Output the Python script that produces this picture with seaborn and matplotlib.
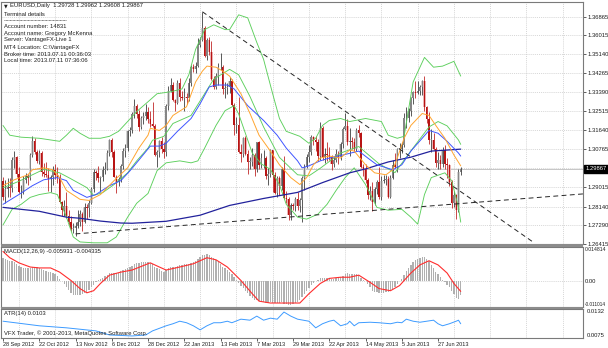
import numpy as np
import matplotlib
matplotlib.use("Agg")
import matplotlib.pyplot as plt
import matplotlib.transforms as mtransforms
from matplotlib.lines import Line2D
from matplotlib.patches import Rectangle
import seaborn as sns

sns.set_theme(style="white")
plt.rcParams['font.family'] = ['Liberation Sans', 'DejaVu Sans']

# ---------------- data (EURUSD daily, 28 Sep 2012 .. 11 Jul 2013) ----------------
opens = [1.2930, 1.2860, 1.2895, 1.2905, 1.2900, 1.3030, 1.3040, 1.2965, 1.2880, 1.2880,
         1.2935, 1.2955, 1.2945, 1.3050, 1.3115, 1.3065, 1.3025, 1.3060, 1.2975, 1.2965,
         1.2960, 1.2940, 1.2950, 1.2980, 1.2960, 1.2950, 1.2835, 1.2800, 1.2815, 1.2770,
         1.2745, 1.2710, 1.2715, 1.2725, 1.2745, 1.2780, 1.2745, 1.2810, 1.2805, 1.2830,
         1.2895, 1.2975, 1.2970, 1.2945, 1.2950, 1.2980, 1.2985, 1.3060, 1.3120, 1.3065,
         1.2950, 1.2925, 1.2940, 1.3000, 1.3070, 1.3085, 1.3160, 1.3165, 1.3240, 1.3275,
         1.3240, 1.3180, 1.3220, 1.3230, 1.3250, 1.3215, 1.3195, 1.3185, 1.3050, 1.3065,
         1.3115, 1.3080, 1.3065, 1.3275, 1.3345, 1.3375, 1.3305, 1.3290, 1.3380, 1.3320,
         1.3315, 1.3320, 1.3315, 1.3380, 1.3455, 1.3445, 1.3460, 1.3555, 1.3580, 1.3635,
         1.3505, 1.3580, 1.3525, 1.3400, 1.3365, 1.3415, 1.3455, 1.3455, 1.3355, 1.3360,
         1.3365, 1.3390, 1.3280, 1.3190, 1.3190, 1.3065, 1.3055, 1.3130, 1.3055, 1.3020,
         1.3020, 1.3050, 1.2985, 1.3110, 1.3005, 1.3035, 1.3035, 1.2955, 1.2965, 1.3075,
         1.2960, 1.2875, 1.2945, 1.2910, 1.2985, 1.2855, 1.2850, 1.2775, 1.2820, 1.2815,
         1.2850, 1.2815, 1.2845, 1.2945, 1.2995, 1.3040, 1.3065, 1.3135, 1.3120, 1.3110,
         1.3045, 1.3175, 1.3040, 1.3055, 1.3050, 1.3040, 1.3010, 1.3030, 1.3055, 1.3040,
         1.3100, 1.3170, 1.3185, 1.3110, 1.3115, 1.3110, 1.3080, 1.3165, 1.3150, 1.2995,
         1.2985, 1.2935, 1.2865, 1.2885, 1.2835, 1.2895, 1.2925, 1.2860, 1.2930, 1.2935,
         1.2940, 1.2860, 1.2945, 1.3005, 1.2995, 1.3080, 1.3080, 1.3095, 1.3220, 1.3220,
         1.3255, 1.3315, 1.3340, 1.3335, 1.3345, 1.3365, 1.3390, 1.3270, 1.3215, 1.3120,
         1.3120, 1.3080, 1.3015, 1.3030, 1.3010, 1.3075, 1.3010, 1.3005, 1.2925, 1.2830,
         1.2865, 1.2800, 1.29728]
highs = [1.2950, 1.2935, 1.2945, 1.2945, 1.3040, 1.3070, 1.3045, 1.2995, 1.2915, 1.2955,
         1.2970, 1.2965, 1.3060, 1.3140, 1.3130, 1.3075, 1.3075, 1.3070, 1.3015, 1.3020,
         1.2990, 1.2960, 1.3000, 1.3010, 1.2995, 1.2965, 1.2840, 1.2845, 1.2880, 1.2800,
         1.2770, 1.2740, 1.2745, 1.2800, 1.2800, 1.2790, 1.2830, 1.2825, 1.2845, 1.2905,
         1.2985, 1.2980, 1.3000, 1.2955, 1.3000, 1.3020, 1.3075, 1.3125, 1.3130, 1.3075,
         1.2960, 1.2950, 1.3010, 1.3085, 1.3100, 1.3165, 1.3180, 1.3250, 1.3310, 1.3285,
         1.3260, 1.3230, 1.3250, 1.3285, 1.3270, 1.3255, 1.3295, 1.3195, 1.3075, 1.3120,
         1.3135, 1.3110, 1.3285, 1.3370, 1.3405, 1.3385, 1.3310, 1.3395, 1.3405, 1.3345,
         1.3360, 1.3335, 1.3405, 1.3465, 1.3470, 1.3480, 1.3590, 1.3595, 1.3710, 1.3645,
         1.3590, 1.3595, 1.3575, 1.3415, 1.3430, 1.3475, 1.3520, 1.3465, 1.3385, 1.3380,
         1.3410, 1.3400, 1.3290, 1.3225, 1.3320, 1.3100, 1.3135, 1.3140, 1.3075, 1.3040,
         1.3085, 1.3060, 1.3110, 1.3115, 1.3060, 1.3075, 1.3045, 1.2990, 1.3080, 1.3075,
         1.2975, 1.2955, 1.2955, 1.2995, 1.3045, 1.2885, 1.2860, 1.2830, 1.2830, 1.2860,
         1.2880, 1.2855, 1.2955, 1.3010, 1.3055, 1.3095, 1.3145, 1.3140, 1.3140, 1.3125,
         1.3205, 1.3185, 1.3085, 1.3110, 1.3090, 1.3050, 1.3045, 1.3080, 1.3070, 1.3110,
         1.3180, 1.3245, 1.3215, 1.3175, 1.3135, 1.3130, 1.3175, 1.3190, 1.3155, 1.3010,
         1.3010, 1.2945, 1.2910, 1.2925, 1.2905, 1.2935, 1.2995, 1.2955, 1.2960, 1.2960,
         1.2955, 1.2960, 1.3030, 1.3060, 1.3085, 1.3105, 1.3110, 1.3245, 1.3270, 1.3265,
         1.3320, 1.3345, 1.3390, 1.3390, 1.3375, 1.3395, 1.3415, 1.3275, 1.3250, 1.3170,
         1.3150, 1.3090, 1.3065, 1.3050, 1.3090, 1.3095, 1.3035, 1.3010, 1.2935, 1.2885,
         1.2870, 1.2985, 1.29962]
lows = [1.2845, 1.2830, 1.2860, 1.2860, 1.2880, 1.2990, 1.2950, 1.2875, 1.2855, 1.2870,
        1.2920, 1.2915, 1.2935, 1.3040, 1.3055, 1.3015, 1.3010, 1.2955, 1.2950, 1.2950,
        1.2885, 1.2880, 1.2915, 1.2940, 1.2920, 1.2830, 1.2770, 1.2770, 1.2760, 1.2730,
        1.2700, 1.2690, 1.2680, 1.2715, 1.2725, 1.2700, 1.2740, 1.2755, 1.2765, 1.2825,
        1.2880, 1.2935, 1.2925, 1.2880, 1.2930, 1.2965, 1.2980, 1.3045, 1.3040, 1.2950,
        1.2875, 1.2910, 1.2925, 1.2985, 1.3040, 1.3070, 1.3140, 1.3150, 1.3220, 1.3220,
        1.3160, 1.3170, 1.3195, 1.3210, 1.3200, 1.3180, 1.3180, 1.3045, 1.2995, 1.3040,
        1.3060, 1.3035, 1.3045, 1.3260, 1.3340, 1.3300, 1.3255, 1.3285, 1.3300, 1.3305,
        1.3255, 1.3285, 1.3300, 1.3370, 1.3435, 1.3430, 1.3455, 1.3550, 1.3575, 1.3500,
        1.3490, 1.3510, 1.3395, 1.3355, 1.3355, 1.3375, 1.3440, 1.3330, 1.3315, 1.3330,
        1.3335, 1.3275, 1.3145, 1.3150, 1.3060, 1.3020, 1.3040, 1.3050, 1.2965, 1.2985,
        1.3000, 1.2955, 1.2975, 1.2985, 1.2990, 1.2990, 1.2940, 1.2915, 1.2950, 1.2880,
        1.2870, 1.2860, 1.2865, 1.2890, 1.2850, 1.2830, 1.2750, 1.2750, 1.2800, 1.2795,
        1.2800, 1.2790, 1.2745, 1.2890, 1.2990, 1.3020, 1.3050, 1.3095, 1.3070, 1.3025,
        1.3030, 1.3030, 1.3015, 1.3025, 1.3030, 1.2980, 1.2995, 1.3020, 1.3010, 1.3030,
        1.3085, 1.3165, 1.3095, 1.3045, 1.3080, 1.3065, 1.3070, 1.3135, 1.2990, 1.2955,
        1.2920, 1.2850, 1.2845, 1.2795, 1.2820, 1.2870, 1.2850, 1.2845, 1.2920, 1.2915,
        1.2855, 1.2855, 1.2940, 1.2990, 1.2975, 1.3035, 1.3060, 1.3090, 1.3175, 1.3205,
        1.3230, 1.3285, 1.3315, 1.3330, 1.3325, 1.3325, 1.3255, 1.3200, 1.3100, 1.3065,
        1.3075, 1.2995, 1.2985, 1.2985, 1.2995, 1.2985, 1.2945, 1.2910, 1.2805, 1.2810,
        1.2755, 1.2790, 1.29608]
closes = [1.2860, 1.2895, 1.2905, 1.2900, 1.3030, 1.3040, 1.2965, 1.2880, 1.2880, 1.2935,
          1.2955, 1.2945, 1.3050, 1.3115, 1.3065, 1.3025, 1.3060, 1.2975, 1.2965, 1.2960,
          1.2940, 1.2950, 1.2980, 1.2960, 1.2950, 1.2835, 1.2800, 1.2815, 1.2770, 1.2745,
          1.2710, 1.2715, 1.2725, 1.2745, 1.2780, 1.2745, 1.2810, 1.2805, 1.2830, 1.2895,
          1.2975, 1.2970, 1.2945, 1.2950, 1.2980, 1.2985, 1.3060, 1.3120, 1.3065, 1.2950,
          1.2925, 1.2940, 1.3000, 1.3070, 1.3085, 1.3160, 1.3165, 1.3240, 1.3275, 1.3240,
          1.3180, 1.3220, 1.3230, 1.3250, 1.3215, 1.3195, 1.3185, 1.3050, 1.3065, 1.3115,
          1.3080, 1.3065, 1.3275, 1.3345, 1.3375, 1.3305, 1.3290, 1.3380, 1.3320, 1.3315,
          1.3320, 1.3315, 1.3380, 1.3455, 1.3445, 1.3460, 1.3555, 1.3580, 1.3635, 1.3505,
          1.3580, 1.3525, 1.3400, 1.3365, 1.3415, 1.3455, 1.3455, 1.3355, 1.3360, 1.3365,
          1.3390, 1.3280, 1.3190, 1.3190, 1.3065, 1.3055, 1.3130, 1.3055, 1.3020, 1.3020,
          1.3050, 1.2985, 1.3110, 1.3005, 1.3035, 1.3035, 1.2955, 1.2965, 1.3075, 1.2960,
          1.2875, 1.2945, 1.2910, 1.2985, 1.2855, 1.2850, 1.2775, 1.2820, 1.2815, 1.2850,
          1.2815, 1.2845, 1.2945, 1.2995, 1.3040, 1.3065, 1.3135, 1.3120, 1.3110, 1.3045,
          1.3175, 1.3040, 1.3055, 1.3050, 1.3040, 1.3010, 1.3030, 1.3055, 1.3040, 1.3100,
          1.3170, 1.3185, 1.3110, 1.3115, 1.3110, 1.3080, 1.3165, 1.3150, 1.2995, 1.2985,
          1.2935, 1.2865, 1.2885, 1.2835, 1.2895, 1.2925, 1.2860, 1.2930, 1.2935, 1.2940,
          1.2860, 1.2945, 1.3005, 1.2995, 1.3080, 1.3080, 1.3095, 1.3220, 1.3220, 1.3255,
          1.3315, 1.3340, 1.3335, 1.3345, 1.3365, 1.3390, 1.3270, 1.3215, 1.3120, 1.3120,
          1.3080, 1.3015, 1.3030, 1.3010, 1.3075, 1.3010, 1.3005, 1.2925, 1.2830, 1.2865,
          1.2800, 1.2975, 1.29867]

# indicator lines (bar index, value)
bb_up_x = [0, 3, 8, 16, 25, 28, 31, 34, 38, 43, 47, 51, 55, 59, 64, 68, 74, 79, 82, 85,
           89, 93, 98, 100, 104, 108, 112, 115, 119, 122, 125, 131, 135, 138, 141, 144, 149,
           153, 160, 167, 170, 174, 177, 181, 186, 190, 194, 199, 202]
bb_up_y = [1.3187, 1.3142, 1.3133, 1.3128, 1.3114, 1.3142, 1.3174, 1.3151, 1.3128, 1.3128,
           1.3137, 1.3160, 1.3205, 1.3251, 1.3296, 1.3333, 1.3342, 1.3355, 1.3420, 1.3537,
           1.3628, 1.3650, 1.3628, 1.3628, 1.3696, 1.3682, 1.3569, 1.3491, 1.3333, 1.3219,
           1.3160, 1.3137, 1.3105, 1.3128, 1.3187, 1.3210, 1.3219, 1.3205, 1.3219, 1.3205,
           1.3142, 1.3128, 1.3137, 1.3387, 1.3500, 1.3455, 1.3460, 1.3482, 1.3414]
bb_lo_x = [0, 4, 8, 12, 16, 21, 24, 28, 31, 34, 40, 46, 50, 55, 59, 64, 68, 72, 78, 83,
           86, 89, 94, 98, 102, 104, 107, 110, 114, 118, 122, 125, 130, 134, 139, 143, 147,
           151, 155, 160, 165, 170, 176, 180, 183, 186, 189, 195, 198, 201, 202]
bb_lo_y = [1.2729, 1.2801, 1.2824, 1.2856, 1.2869, 1.2878, 1.2869, 1.2765, 1.2674, 1.2651,
           1.2647, 1.2647, 1.2674, 1.2765, 1.2829, 1.2874, 1.2979, 1.3015, 1.3024, 1.3015,
           1.3024, 1.3083, 1.3187, 1.3255, 1.3278, 1.3240, 1.3150, 1.3060, 1.3010, 1.2985,
           1.2915, 1.2824, 1.2765, 1.2756, 1.2779, 1.2824, 1.2888, 1.2947, 1.2992, 1.2915,
           1.2810, 1.2797, 1.2801, 1.2765, 1.2733, 1.2869, 1.2947, 1.2969, 1.2933, 1.2810,
           1.2742]
bb_mid_x = [0, 7, 18, 25, 29, 37, 40, 44, 49, 55, 59, 64, 66, 71, 75, 83, 87, 93, 100, 104,
            109, 115, 122, 130, 135, 140, 149, 157, 166, 173, 180, 188, 192, 196, 201, 202]
bb_mid_y = [1.2900, 1.2930, 1.2985, 1.2969, 1.2947, 1.2901, 1.2865, 1.2878, 1.2915, 1.2969,
            1.3024, 1.3083, 1.3119, 1.3137, 1.3196, 1.3233, 1.3300, 1.3400, 1.3445, 1.3420,
            1.3320, 1.3180, 1.3040, 1.2960, 1.2955, 1.2990, 1.3060, 1.3090, 1.3010, 1.2970,
            1.3070, 1.3180, 1.3205, 1.3185, 1.3120, 1.3100]
ma_fast_x = [0, 5, 11, 13, 18, 22, 25, 28, 34, 38, 43, 49, 55, 60, 64, 65, 69, 72, 75, 81,
             85, 88, 90, 94, 97, 100, 105, 109, 113, 118, 122, 127, 131, 134, 137, 140, 144,
             149, 153, 155, 160, 164, 169, 172, 174, 177, 180, 185, 188, 191, 195, 199, 202]
ma_fast_y = [1.2910, 1.2937, 1.2960, 1.2983, 1.2992, 1.2983, 1.2947, 1.2888, 1.2847, 1.2842,
             1.2869, 1.2933, 1.2992, 1.3083, 1.3142, 1.3174, 1.3164, 1.3187, 1.3233, 1.3273,
             1.3387, 1.3437, 1.3460, 1.3455, 1.3437, 1.3414, 1.3333, 1.3242, 1.3142, 1.3069,
             1.3006, 1.2947, 1.2915, 1.2947, 1.3006, 1.3037, 1.3046, 1.3037, 1.3074, 1.3069,
             1.3006, 1.2969, 1.2960, 1.2983, 1.3037, 1.3128, 1.3187, 1.3242, 1.3233, 1.3187,
             1.3128, 1.3051, 1.3001]
ma_mid_x = [0, 7, 13, 18, 24, 28, 31, 37, 41, 47, 52, 56, 60, 65, 69, 72, 77, 83, 87, 91,
            94, 99, 102, 108, 115, 121, 125, 130, 132, 135, 140, 144, 150, 157, 161, 165, 172,
            176, 180, 185, 188, 192, 196, 201, 202]
ma_mid_y = [1.2824, 1.2869, 1.2910, 1.2937, 1.2947, 1.2933, 1.2888, 1.2856, 1.2869, 1.2910,
            1.2933, 1.2978, 1.3028, 1.3092, 1.3092, 1.3105, 1.3160, 1.3219, 1.3287, 1.3364,
            1.3373, 1.3373, 1.3355, 1.3278, 1.3210, 1.3142, 1.3083, 1.3024, 1.2992, 1.3001,
            1.3024, 1.3037, 1.3051, 1.3069, 1.3037, 1.3006, 1.2983, 1.3006, 1.3069, 1.3128,
            1.3164, 1.3151, 1.3114, 1.3060, 1.3046]
ma_slow_x = [0, 16, 28, 34, 43, 52, 57, 72, 87, 100, 115, 130, 141, 153, 160, 170, 180, 189, 202]
ma_slow_y = [1.2810, 1.2792, 1.2765, 1.2760, 1.2747, 1.2738, 1.2737, 1.2746, 1.2774, 1.2819,
             1.2851, 1.2879, 1.2924, 1.2969, 1.2987, 1.3019, 1.3041, 1.3069, 1.3078]

# manual trend lines (anchor bars / prices)
trend_down_x = [88, 234]
trend_down_y = [1.3710, 1.2650]
trend_up_x = [32, 256]
trend_up_y = [1.2688, 1.2872]

# MACD(12,26,9) main, in units of 1e-4, one per bar
macd_main_e4 = [102, 97, 92, 86, 86, 84, 76, 66, 60, 58,
                57, 56, 58, 64, 63, 60, 58, 53, 49, 46,
                42, 40, 36, 32, 24, 10, 0, -12, -24, -38,
                -50, -57, -60, -60, -58, -56, -52, -46, -36, -24,
                -14, -4, 4, 12, 16, 22, 28, 36, 38, 36,
                36, 38, 44, 50, 54, 58, 62, 68, 74, 78,
                80, 82, 83, 85, 85, 80, 74, 64, 58, 52,
                46, 40, 48, 56, 62, 64, 64, 68, 70, 72,
                74, 74, 76, 80, 84, 90, 98, 106, 114, 113,
                116, 112, 104, 100, 94, 88, 74, 64, 56, 48,
                40, 30, 18, 8, -6, -18, -28, -40, -52, -63,
                -70, -78, -80, -86, -88, -89, -92, -93, -90, -92,
                -95, -94, -94, -90, -96, -98, -102, -100, -99, -94,
                -90, -80, -68, -55, -42, -30, -16, -6, 2, 4,
                16, 16, 16, 16, 14, 12, 12, 14, 14, 18,
                24, 32, 36, 34, 32, 30, 30, 28, 16, 8,
                0, -10, -26, -40, -44, -46, -50, -50, -49, -46,
                -46, -42, -32, -24, -12, 2, 10, 26, 44, 58,
                72, 84, 92, 98, 102, 106, 107, 98, 86, 72,
                56, 42, 30, 18, 6, -2, -14, -26, -42, -56,
                -70, -74, -59]
macd_sig_x = [0, 3, 7, 12, 16, 21, 25, 30, 34, 37, 40, 43, 47, 52, 57, 65, 69, 72, 78, 84,
              90, 94, 99, 105, 110, 113, 118, 127, 131, 135, 140, 144, 149, 153, 157, 162,
              166, 171, 175, 180, 184, 188, 192, 196, 199, 202]
macd_sig_y = [0.0129, 0.0102, 0.0080, 0.0062, 0.0058, 0.0058, 0.0040, 0.0004, -0.0031, -0.0049,
              -0.0040, -0.0009, 0.0027, 0.0040, 0.0049, 0.0080, 0.0062, 0.0049, 0.0062, 0.0076,
              0.0102, 0.0093, 0.0062, 0.0004, -0.0053, -0.0085, -0.0093, -0.0093, -0.0093, -0.0053,
              -0.0009, 0.0013, 0.0018, 0.0018, 0.0027, -0.0004, -0.0031, -0.0040, -0.0018, 0.0036,
              0.0071, 0.0089, 0.0071, 0.0036, -0.0009, -0.0043]

# ATR(14)
atr_x = [0, 16, 28, 41, 47, 57, 63, 66, 72, 75, 78, 81, 84, 87, 90, 93, 96, 99, 101, 105,
         109, 112, 115, 118, 121, 124, 127, 130, 135, 138, 141, 144, 146, 149, 152, 153, 155,
         157, 162, 166, 171, 174, 176, 178, 181, 184, 187, 190, 192, 194, 197, 200, 201, 202]
atr_y = [0.0108, 0.0099, 0.0095, 0.0089, 0.0081, 0.0079, 0.0081, 0.0089, 0.0099, 0.0103,
         0.0108, 0.0105, 0.0099, 0.0091, 0.0099, 0.0105, 0.0105, 0.0108, 0.0105, 0.0112,
         0.0110, 0.0118, 0.0110, 0.0114, 0.0112, 0.0126, 0.0118, 0.0112, 0.0108, 0.0095,
         0.0103, 0.0108, 0.0110, 0.0099, 0.0103, 0.0108, 0.0099, 0.0105, 0.0106, 0.0105,
         0.0103, 0.0106, 0.0105, 0.0112, 0.0108, 0.0106, 0.0108, 0.0110, 0.0103, 0.0099,
         0.0103, 0.0108, 0.0110, 0.0103]

price_ticks = [1.36865, 1.36015, 1.35140, 1.34265, 1.33390, 1.32515, 1.31640, 1.30765,
               1.29015, 1.28140, 1.27290, 1.26415]
bid_price = 1.29867
date_ticks = [0, 16, 32, 48, 64, 80, 96, 112, 128, 144, 160, 176, 192]
date_labels = ["28 Sep 2012", "22 Oct 2012", "13 Nov 2012", "6 Dec 2012", "28 Dec 2012",
               "22 Jan 2013", "13 Feb 2013", "7 Mar 2013", "29 Mar 2013", "22 Apr 2013",
               "14 May 2013", "5 Jun 2013", "27 Jun 2013"]

for a, b in [(opens, highs), (opens, lows), (opens, closes), (opens, macd_main_e4),
             (bb_up_x, bb_up_y), (bb_lo_x, bb_lo_y), (bb_mid_x, bb_mid_y),
             (ma_fast_x, ma_fast_y), (ma_mid_x, ma_mid_y), (ma_slow_x, ma_slow_y),
             (macd_sig_x, macd_sig_y), (atr_x, atr_y)]:
    assert len(a) == len(b), (len(a), len(b))

# ---------------- figure ----------------
W, H = 608, 348
fig = plt.figure(figsize=(W / 100, H / 100), dpi=100)
fig.patch.set_facecolor('white')


def box(x0, y0, x1, y1):
    return [x0 / W, 1 - y1 / H, (x1 - x0) / W, (y1 - y0) / H]


ax = fig.add_axes(box(1, 2, 583, 244))
axm = fig.add_axes(box(1, 247, 583, 307))
axa = fig.add_axes(box(1, 309, 583, 338))

XL = (-0.88, 255.96)
for a in (ax, axm, axa):
    a.set_xlim(*XL)
    a.set_facecolor('white')
    for s in a.spines.values():
        s.set_color('#7a7a7a')
        s.set_linewidth(0.8)

ax.set_ylim(1.26415, 1.3755)
axm.set_ylim(-0.011014, 0.014814)
axa.set_ylim(0.0075, 0.0132)

# separators
for y0, y1 in [(244, 247), (307, 309)]:
    fig.add_artist(Rectangle((1 / W, 1 - y1 / H), 582 / W, (y1 - y0) / H,
                             transform=fig.transFigure, facecolor='#8c8c8c',
                             edgecolor='none'))

# grid
gkw = dict(color='#c8c8c8', lw=0.5, ls=(0, (1.5, 1.5)), zorder=0)
vgrid = [7 + 16 * k for k in range(16)]
for a in (ax, axm, axa):
    for g in vgrid:
        a.axvline(g, **gkw)
for p in price_ticks + [1.29890]:
    ax.axhline(p, **gkw)
axm.axhline(0.0, **gkw)

# bid line
ax.axhline(bid_price, color='#bdbdbd', lw=0.6, zorder=1)

# candles
idx = np.arange(len(closes))
o, h, l, c = (np.array(v) for v in (opens, highs, lows, closes))
up = c >= o
UP_BODY, UP_WICK, UP_HALO = '#858585', '#3e3e3e', '#d2d2d2'
DN_BODY, DN_WICK, DN_HALO = '#b81414', '#c02828', '#eab4b4'
bot = np.minimum(o, c)
hgt = np.maximum(np.abs(c - o), 0.00025)
# soft halo (anti-aliased look of the screenshot)
ax.bar(idx[up], hgt[up], bottom=bot[up], width=1.0, color=UP_HALO, linewidth=0, zorder=1.8)
ax.bar(idx[~up], hgt[~up], bottom=bot[~up], width=1.0, color=DN_HALO, linewidth=0, zorder=1.8)
ax.vlines(idx[up], l[up], h[up], color=UP_WICK, lw=0.6, zorder=2)
ax.vlines(idx[~up], l[~up], h[~up], color=DN_WICK, lw=0.6, zorder=2)
ax.bar(idx[up], hgt[up], bottom=bot[up], width=0.6, color=UP_BODY, linewidth=0, zorder=2.1)
ax.bar(idx[~up], hgt[~up], bottom=bot[~up], width=0.6, color=DN_BODY, linewidth=0, zorder=2.1)

# indicator lines (seaborn)
GREEN, ORANGE, BLUE, DKBLUE = '#5ccf5c', '#ffa530', '#3f55ff', '#22229c'
line_kw = dict(estimator=None, sort=False, legend=False)
for xs, ys, col, lw in [(bb_up_x, bb_up_y, GREEN, 0.65), (bb_lo_x, bb_lo_y, GREEN, 0.65),
                        (bb_mid_x, bb_mid_y, GREEN, 0.65), (ma_slow_x, ma_slow_y, DKBLUE, 0.9),
                        (ma_mid_x, ma_mid_y, BLUE, 0.7), (ma_fast_x, ma_fast_y, ORANGE, 0.7)]:
    sns.lineplot(x=xs, y=ys, ax=ax, color=col, lw=lw, zorder=3, **line_kw)

# trend lines
for xs, ys in [(trend_down_x, trend_down_y), (trend_up_x, trend_up_y)]:
    ax.plot(xs, ys, color='#262626', lw=0.7, ls=(0, (5, 3.5)), zorder=4)

# MACD
macd_main = np.array(macd_main_e4) * 1e-4
axm.bar(idx, macd_main, width=0.58, color='#b0b0b0', linewidth=0, zorder=2)
sns.lineplot(x=macd_sig_x, y=macd_sig_y, ax=axm, color='#ff2d2d', lw=0.8, zorder=3, **line_kw)

# ATR
sns.lineplot(x=atr_x, y=atr_y, ax=axa, color='#3d9bff', lw=0.7, zorder=3, **line_kw)

# ---------------- axes text / ticks ----------------
FS = 4.2
TXT = '#1e1e1e'
for a in (ax, axm, axa):
    a.set_xlabel('')
    a.set_ylabel('')
ax.yaxis.tick_right()
ax.set_yticks(price_ticks)
ax.set_yticklabels([f"{p:.5f}" for p in price_ticks])
ax.tick_params(axis='y', which='both', right=True, left=False, length=2, width=0.5,
               pad=1, labelsize=FS, colors=TXT)
ax.tick_params(axis='x', bottom=False, labelbottom=False)
for a in (axm, axa):
    a.set_yticks([])
axm.tick_params(axis='x', bottom=False, labelbottom=False)

axa.set_xticks(date_ticks)
axa.set_xticklabels(date_labels)
axa.tick_params(axis='x', bottom=True, length=2, width=0.5, pad=1.2, labelsize=FS - 0.2,
                colors=TXT)
for lbl in axa.get_xticklabels():
    lbl.set_horizontalalignment('left')

bt = mtransforms.blended_transform_factory(ax.transAxes, ax.transData)
ax.text(1.004, bid_price, '1.29867', transform=bt, color='white', fontsize=FS,
        va='center', ha='left', clip_on=False,
        bbox=dict(boxstyle='square,pad=0.22', fc='black', ec='black'))

btm = mtransforms.blended_transform_factory(axm.transAxes, axm.transData)
for val, s, va, fs in [(0.014814, '0.014814', 'top', 3.7), (0.0, '0.00', 'center', FS),
                       (-0.011014, '-0.011014', 'bottom', 3.4)]:
    axm.text(1.003, val, s, transform=btm, fontsize=fs, color=TXT, va=va, ha='left',
             clip_on=False)
bta = mtransforms.blended_transform_factory(axa.transAxes, axa.transData)
for val, s, va in [(0.0132, '0.0132', 'top'), (0.0075, '0.0075', 'bottom')]:
    axa.text(1.006, val, s, transform=bta, fontsize=FS, color=TXT, va=va, ha='left',
             clip_on=False)


def ftext(x, y, s, fs=FS, **kw):
    fig.text(x / W, 1 - y / H, s, fontsize=fs, color=TXT, va='center', ha='left', **kw)


ftext(4, 6, '\u25BC', fs=3.4, family=['DejaVu Sans'])
ftext(10, 6, 'EURUSD,Daily  1.29728 1.29962 1.29608 1.29867')
ftext(4, 14, 'Terminal details')
fig.add_artist(Line2D([4 / W, 66 / W], [1 - 20 / H, 1 - 20 / H], transform=fig.transFigure,
                      color='#303030', lw=0.5, ls=(0, (1.2, 0.8))))
info = ['Account number: 14831', 'Account name: Gregory McKenna', 'Server: VantageFX-Live 1',
        'MT4 Location: C:\\VantageFX', 'Broker time: 2013.07.11 00:36:03',
        'Local time: 2013.07.11 07:36:06']
for k, s in enumerate(info):
    ftext(4, 26 + 7 * k, s)

ftext(4, 251, 'MACD(12,26,9) -0.005931 -0.004335')
ftext(4, 313, 'ATR(14) 0.0103')
ftext(4, 333, 'VFX Trader, \u00A9 2001-2013, MetaQuotes Software Corp.')

fig.savefig('out.png', dpi=100, facecolor='white')
